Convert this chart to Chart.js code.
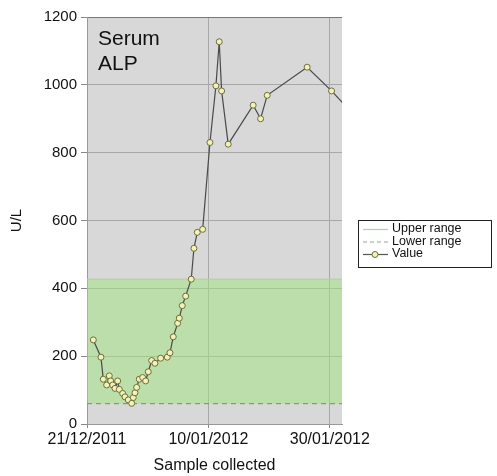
<!DOCTYPE html>
<html>
<head>
<meta charset="utf-8">
<script src="https://cdn.jsdelivr.net/npm/chart.js@4.4.1/dist/chart.umd.min.js"></script>
<style>
  html, body { margin: 0; padding: 0; background: #fff; }
  #wrap { width: 497px; height: 476px; }
</style>
</head>
<body>
<div id="wrap"><canvas id="alpChart"></canvas></div>
<script>
// days after 21/12/2011 when each sample was collected
const sampleDays = [1.04, 2.3, 2.68, 3.24, 3.67, 3.9, 4.23, 4.61, 5.05, 5.32, 5.88, 6.26, 6.8, 7.36, 7.62,
    7.9, 8.18, 8.61, 9.17, 9.66, 10.09, 10.65, 11.19, 12.13, 13.22, 13.66, 14.21, 14.93, 15.2, 15.69,
    16.25, 17.17, 17.61, 18.16, 19.05, 20.25, 21.23, 21.78, 22.17, 23.26, 27.37, 28.59, 29.68, 36.26,
    40.28, 44];
const alpValues = [248, 197, 132, 115, 142, 127, 115, 105, 127, 102, 90, 80, 71, 61, 78,
    92, 108, 132, 137, 127, 154, 187, 179, 194, 197, 210, 257, 297, 312, 349,
    377, 427, 518, 565, 574, 830, 997, 1127, 982, 825, 940, 900, 969, 1052,
    982, 910];
const upperRange = 427;
const lowerRange = 60;
const xTicks = [0, 20, 40];
const yTicks = [0, 200, 400, 600, 800, 1000, 1200];
const startDate = new Date(2011, 11, 21);

function fmtDate(d) {
    let dt = new Date(startDate.getTime() + d * 86400000);
    let dd = String(dt.getDate()).padStart(2, "0");
    let mm = String(dt.getMonth() + 1).padStart(2, "0");
    return dd + "/" + mm + "/" + dt.getFullYear();
}

const xMax = 42;
const font = "'Liberation Sans', Arial, sans-serif";

// grey plot background + "Serum ALP" label + boxed legend
const decorations = {
    id: "decorations",
    beforeDraw(chart) {
        let { ctx, chartArea: a } = chart;
        ctx.save();
        ctx.fillStyle = "#d8d8d8";
        ctx.fillRect(a.left, a.top, a.right - a.left, a.bottom - a.top);
        ctx.restore();
    },
    afterDraw(chart) {
        let { ctx, chartArea: a } = chart;
        ctx.save();
        ctx.fillStyle = "#111";
        ctx.font = "21px " + font;
        ctx.textBaseline = "alphabetic";
        ctx.fillText("Serum", a.left + 11, a.top + 28);
        ctx.fillText("ALP", a.left + 11, a.top + 53);

        // legend
        let lx = 358, ly = 220, lw = 133, lh = 47;
        ctx.fillStyle = "#fff";
        ctx.fillRect(lx, ly, lw, lh);
        ctx.strokeStyle = "#222";
        ctx.lineWidth = 1;
        ctx.strokeRect(lx + 0.5, ly + 0.5, lw, lh);
        let rows = [
            { label: "Upper range", color: "#a9d894", dash: [] },
            { label: "Lower range", color: "#8fae8a", dash: [4, 3] },
            { label: "Value", color: "#555", dash: [], point: true }
        ];
        ctx.font = "12.5px " + font;
        ctx.textBaseline = "middle";
        rows.forEach((r, i) => {
            let y = ly + 9 + i * 12.5;
            ctx.beginPath();
            ctx.setLineDash(r.dash);
            ctx.strokeStyle = r.color;
            ctx.lineWidth = 1.2;
            ctx.moveTo(lx + 5, y + 0.5);
            ctx.lineTo(lx + 30, y + 0.5);
            ctx.stroke();
            ctx.setLineDash([]);
            if (r.point) {
                ctx.beginPath();
                ctx.arc(lx + 17, y + 0.5, 3, 0, Math.PI * 2);
                ctx.fillStyle = "#f2f2b8";
                ctx.fill();
                ctx.strokeStyle = "#6e6e3c";
                ctx.lineWidth = 1;
                ctx.stroke();
            }
            ctx.fillStyle = "#111";
            ctx.fillText(r.label, lx + 34, y);
        });
        ctx.restore();
    }
};

const ctx = document.getElementById("alpChart").getContext("2d");
new Chart(ctx, {
    type: "line",
    data: {
        datasets: [
            {
                label: "Upper range",
                data: [{ x: 0, y: upperRange }, { x: xMax, y: upperRange }],
                borderColor: "#a9d894",
                borderWidth: 1,
                backgroundColor: "rgba(160, 228, 124, 0.5)",
                fill: "+1",
                pointRadius: 0,
                order: 3
            },
            {
                label: "Lower range",
                data: [{ x: 0, y: lowerRange }, { x: xMax, y: lowerRange }],
                borderColor: "#7f9f7c",
                borderWidth: 1.2,
                borderDash: [5, 4],
                fill: false,
                pointRadius: 0,
                order: 2
            },
            {
                label: "Value",
                data: sampleDays.map((d, i) => ({ x: d, y: alpValues[i] })),
                borderColor: "#4a4a4a",
                borderWidth: 1.2,
                pointRadius: 3,
                pointBackgroundColor: "#f2f2b8",
                pointBorderColor: "#6e6e3c",
                pointBorderWidth: 1,
                fill: false,
                tension: 0,
                order: 1
            }
        ]
    },
    options: {
        responsive: true,
        maintainAspectRatio: false,
        animation: false,
        layout: { padding: { left: 0, top: 17, right: 155, bottom: 0 } },
        plugins: { legend: { display: false }, tooltip: { enabled: false } },
        scales: {
            x: {
                type: "linear",
                min: 0,
                max: xMax,
                afterFit: s => { s.height = 52; },
                afterBuildTicks: s => { s.ticks = xTicks.map(v => ({ value: v })); },
                grid: { color: "#a8a8a8", tickLength: 4, tickColor: "#888" },
                border: { color: "#999" },
                ticks: {
                    color: "#111",
                    padding: 2,
                    maxRotation: 0,
                    font: { family: font, size: 16 },
                    callback: v => fmtDate(v)
                },
                title: {
                    display: true,
                    text: "Sample collected",
                    color: "#111",
                    font: { family: font, size: 16 },
                    padding: { top: 0, bottom: 1 }
                }
            },
            y: {
                min: 0,
                max: 1200,
                afterFit: s => { s.width = 87; },
                afterBuildTicks: s => { s.ticks = yTicks.map(v => ({ value: v })); },
                grid: {
                    color: c => c.tick && c.tick.value === 1200 ? "#777" : "#a8a8a8",
                    tickLength: 6,
                    tickColor: "#888"
                },
                border: { color: "#999" },
                ticks: {
                    color: "#111",
                    padding: 4,
                    font: { family: font, size: 15 },
                    callback: v => String(v)
                },
                title: {
                    display: true,
                    text: "U/L",
                    color: "#111",
                    font: { family: font, size: 15 },
                    padding: { top: 8, bottom: 0 }
                }
            }
        }
    },
    plugins: [decorations]
});
</script>
</body>
</html>
